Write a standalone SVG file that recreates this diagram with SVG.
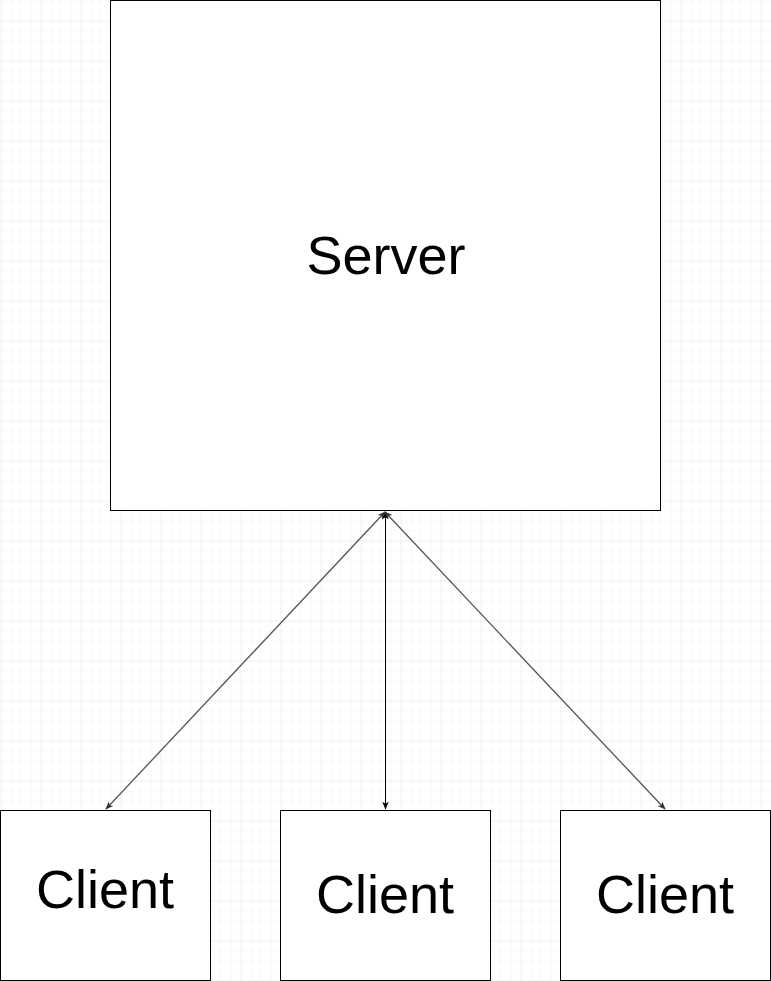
<svg xmlns="http://www.w3.org/2000/svg" width="771" height="981" viewBox="0 0 771 981">
<defs>
<pattern id="minor" width="10" height="10" patternUnits="userSpaceOnUse" x="0" y="0">
<path d="M 10 0 L 0 0 0 10" fill="none" stroke="#f2f2f2" stroke-width="1"/>
</pattern>
<pattern id="major" width="40" height="40" patternUnits="userSpaceOnUse" x="0.5" y="20.5">
<rect width="40" height="40" fill="url(#minor)"/>
<path d="M 40 0 L 0 0 0 40" fill="none" stroke="#e3e3e3" stroke-width="1"/>
</pattern>
<marker id="ahb" viewBox="0 0 10 10" refX="9" refY="5" markerWidth="8" markerHeight="8" orient="auto-start-reverse" markerUnits="userSpaceOnUse">
<path d="M0,1 L10,5 L0,9 L2.5,5 Z" fill="#000"/>
</marker>
<marker id="ahg" viewBox="0 0 10 10" refX="9" refY="5" markerWidth="8" markerHeight="8" orient="auto-start-reverse" markerUnits="userSpaceOnUse">
<path d="M0,1 L10,5 L0,9 L2.5,5 Z" fill="#333"/>
</marker>
</defs>
<style>
.box{fill:#fff;stroke:#000;stroke-width:1}
.lbl{font-family:"Liberation Sans",Arial,sans-serif;font-size:54px;fill:#000;text-anchor:middle}
.diag{stroke:#555;stroke-width:1.3;fill:none;marker-start:url(#ahg);marker-end:url(#ahg)}
.vert{stroke:#000;stroke-width:1;fill:none;marker-start:url(#ahb);marker-end:url(#ahb)}
</style>
<rect width="771" height="981" fill="#fff"/>
<rect width="771" height="981" fill="url(#major)"/>
<g id="server">
<rect class="box" x="110.5" y="0.5" width="550" height="510"/>
<text class="lbl" x="386" y="274">Server</text>
</g>
<g id="client1">
<rect class="box" x="0.5" y="810.5" width="210" height="170"/>
<text class="lbl" x="105" y="908">Client</text>
</g>
<g id="client2">
<rect class="box" x="280.5" y="810.5" width="210" height="170"/>
<text class="lbl" x="385" y="913">Client</text>
</g>
<g id="client3">
<rect class="box" x="560.5" y="810.5" width="210" height="170"/>
<text class="lbl" x="665" y="913">Client</text>
</g>
<g id="connectors">
<line class="diag" x1="385" y1="512" x2="106" y2="809"/>
<line class="vert" x1="385.5" y1="512" x2="385.5" y2="809"/>
<line class="diag" x1="385" y1="512" x2="665" y2="809"/>
</g>
</svg>
